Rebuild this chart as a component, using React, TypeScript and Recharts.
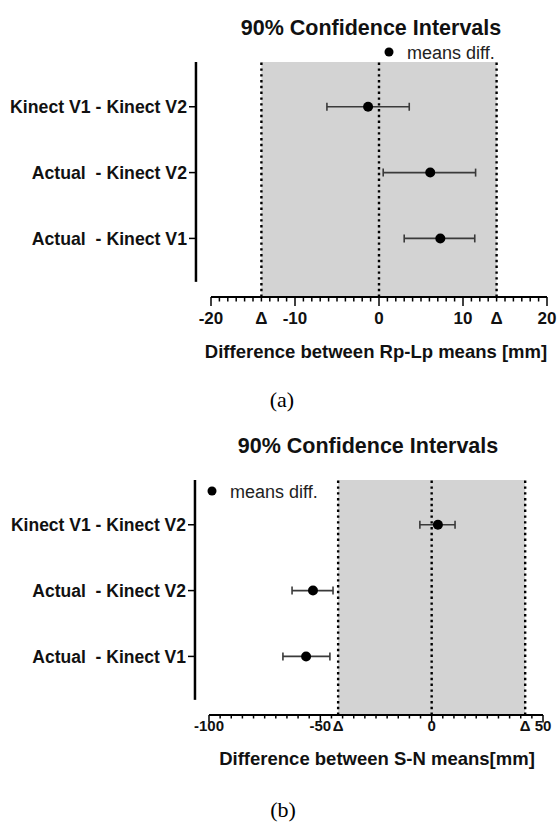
import React from "react";
import {
  ScatterChart,
  Scatter,
  XAxis,
  YAxis,
  ReferenceArea,
  ReferenceLine,
  ErrorBar,
} from "recharts";

const rowLabels = ["Kinect V1 - Kinect V2", "Actual  - Kinect V2", "Actual  - Kinect V1"];

// (a) Rp-Lp, mm
const meanA = [-1.3, 6.1, 7.3];
const lowA = [-6.2, 0.5, 3.0];
const highA = [3.6, 11.5, 11.4];
const deltaA = 14;
const majorTicksA = [-20, -10, 0, 10, 20];

// (b) S-N, mm
const meanB = [2.8, -53.3, -56.4];
const lowB = [-5.3, -62.7, -66.8];
const highB = [10.5, -44.3, -45.7];
const deltaB = 42;
const majorTicksB = [-100, -50, 0, 50];

const SANS = "'Liberation Sans', Arial, Helvetica, sans-serif";
const SERIF = "'Liberation Serif', 'Times New Roman', serif";
const Y_DOMAIN: [number, number] = [0.32, 3.89];
const Y_LINE_END = 3.66;

const toPoints = (mean: number[], low: number[], high: number[]) =>
  mean.map((m, i) => ({ x: m, y: i + 1, err: [m - low[i], high[i] - m] }));

function tickList(min: number, max: number, step: number, delta: number) {
  const out: number[] = [];
  for (let v = min; v <= max + 1e-9; v += step) out.push(Math.round(v * 100) / 100);
  [-delta, delta].forEach((d) => {
    if (!out.includes(d)) out.push(d);
  });
  return out.sort((a, b) => a - b);
}

interface PanelProps {
  top: number;
  height: number;
  margin: { top: number; right: number; bottom: number; left: number };
  yAxisWidth: number;
  domain: [number, number];
  step: number;
  majors: number[];
  delta: number;
  mean: number[];
  low: number[];
  high: number[];
  yLineX: number;
  gap: number;
  tickFont: number;
  labelDy: number;
  majorLen: number;
  minorLen: number;
  rowFont: number;
}

function Panel(p: PanelProps) {
  const data = toPoints(p.mean, p.low, p.high);
  const ticks = tickList(p.domain[0], p.domain[1], p.step, p.delta);

  const renderXTick = (props: any) => {
    const { x, y, payload } = props;
    const v = payload.value;
    const isMajor = p.majors.includes(v);
    const isDelta = Math.abs(v) === p.delta;
    const onGrid = Math.abs(Math.round(v / p.step) * p.step - v) < 1e-9;
    return (
      <g>
        {onGrid && (
          <line
            x1={x}
            x2={x}
            y1={y}
            y2={y + (isMajor ? p.majorLen : p.minorLen)}
            stroke="#000"
            strokeWidth={1.5}
          />
        )}
        {(isMajor || isDelta) && (
          <text
            x={x}
            y={y + p.labelDy}
            textAnchor="middle"
            fontSize={p.tickFont}
            fontWeight="bold"
            fontFamily={SANS}
            fill="#111"
          >
            {isDelta ? "Δ" : v}
          </text>
        )}
      </g>
    );
  };

  const renderYTick = (props: any) => {
    const { x, y, payload } = props;
    const ax = x - p.gap;
    return (
      <g>
        <line x1={ax - 7} x2={ax} y1={y} y2={y} stroke="#000" strokeWidth={1.5} />
        <text
          x={ax - 9}
          y={y}
          dy="0.36em"
          textAnchor="end"
          fontSize={p.rowFont}
          fontWeight="bold"
          fontFamily={SANS}
          fill="#111"
          xmlSpace="preserve"
          style={{ whiteSpace: "pre" }}
        >
          {rowLabels[payload.value - 1]}
        </text>
      </g>
    );
  };

  return (
    <div style={{ position: "absolute", left: 0, top: p.top }}>
      <ScatterChart width={557} height={p.height} margin={p.margin}>
        <XAxis
          type="number"
          dataKey="x"
          domain={p.domain}
          allowDataOverflow
          ticks={ticks}
          interval={0}
          tickSize={0}
          tickMargin={0}
          tickLine={false}
          axisLine={{ stroke: "#000", strokeWidth: 2 }}
          tick={renderXTick}
          height={40}
        />
        <YAxis
          type="number"
          dataKey="y"
          domain={Y_DOMAIN}
          allowDataOverflow
          reversed
          ticks={[1, 2, 3]}
          interval={0}
          tickSize={0}
          tickMargin={0}
          tickLine={false}
          axisLine={false}
          tick={renderYTick}
          width={p.yAxisWidth}
        />
        <ReferenceArea
          x1={-p.delta}
          x2={p.delta}
          fill="#d3d3d3"
          fillOpacity={1}
          stroke="none"
        />
        {[-p.delta, 0, p.delta].map((v) => (
          <ReferenceLine
            key={v}
            x={v}
            stroke="#000"
            strokeWidth={2.4}
            strokeDasharray="2.4 3.4"
          />
        ))}
        <ReferenceLine
          segment={[
            { x: p.yLineX, y: Y_DOMAIN[0] },
            { x: p.yLineX, y: Y_LINE_END },
          ]}
          stroke="#000"
          strokeWidth={2.5}
          ifOverflow="visible"
        />
        <Scatter
          data={data}
          isAnimationActive={false}
          shape={(s: any) => <circle cx={s.cx} cy={s.cy} r={5} fill="#000" />}
        >
          <ErrorBar
            dataKey="err"
            direction="x"
            width={4}
            stroke="#3a3a3a"
            strokeWidth={1.6}
            isAnimationActive={false}
          />
        </Scatter>
      </ScatterChart>
    </div>
  );
}

export default function App() {
  return (
    <div style={{ position: "absolute", left: 0, top: 0, width: 557, height: 824, background: "#fff" }}>
      <Panel
        top={0}
        height={380}
        margin={{ top: 62, right: 10, bottom: 43, left: 0 }}
        yAxisWidth={211}
        domain={[-20, 20]}
        step={1}
        majors={majorTicksA}
        delta={deltaA}
        mean={meanA}
        low={lowA}
        high={highA}
        yLineX={-21.79}
        gap={15}
        tickFont={17}
        labelDy={27}
        majorLen={9}
        minorLen={4.5}
        rowFont={17.7}
      />
      <Panel
        top={400}
        height={424}
        margin={{ top: 80, right: 14, bottom: 69, left: 0 }}
        yAxisWidth={209}
        domain={[-100, 50]}
        step={5}
        majors={majorTicksB}
        delta={deltaB}
        mean={meanB}
        low={lowB}
        high={highB}
        yLineX={-106.3}
        gap={14}
        tickFont={15}
        labelDy={16}
        majorLen={7.5}
        minorLen={3.5}
        rowFont={17.5}
      />
      <svg
        width={557}
        height={824}
        style={{ position: "absolute", left: 0, top: 0, pointerEvents: "none" }}
      >
        <g fontFamily={SANS} fill="#111">
          <text x={371} y={34.5} textAnchor="middle" fontSize={21.5} fontWeight="bold">
            90% Confidence Intervals
          </text>
          <circle cx={389} cy={52} r={4.5} fill="#000" />
          <text x={407} y={59} fontSize={18} fill="#222">
            means diff.
          </text>
          <text x={376} y={357.5} textAnchor="middle" fontSize={18.5} fontWeight="bold">
            Difference between Rp-Lp means [mm]
          </text>

          <text x={368} y={452.5} textAnchor="middle" fontSize={21.5} fontWeight="bold">
            90% Confidence Intervals
          </text>
          <circle cx={212} cy={491} r={4.5} fill="#000" />
          <text x={230} y={497.5} fontSize={18} fill="#222">
            means diff.
          </text>
          <text x={377} y={765} textAnchor="middle" fontSize={18.5} fontWeight="bold">
            Difference between S-N means[mm]
          </text>
        </g>
        <g fontFamily={SERIF} fill="#000" fontSize={22}>
          <text x={282} y={407} textAnchor="middle">(a)</text>
          <text x={283} y={817} textAnchor="middle">(b)</text>
        </g>
      </svg>
    </div>
  );
}
